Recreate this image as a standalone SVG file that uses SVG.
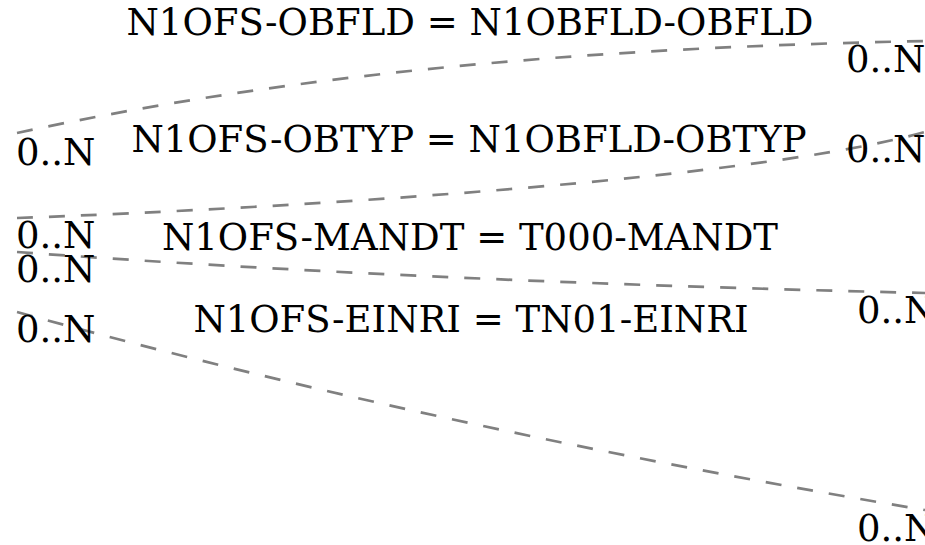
<svg xmlns="http://www.w3.org/2000/svg" width="925" height="545" viewBox="0 0 925 545">
<style>
.edge{fill:none;stroke:#808080;stroke-width:2.7;stroke-dasharray:16,16}
.lbl{font-family:"DejaVu Serif",serif;font-size:37px;fill:#000}
.mid{text-anchor:middle}
</style>
<rect width="925" height="545" fill="#fff"/>
<g id="connectors">
<path class="edge" d="M17,133 C317,68 625,47 925,41"/>
<path class="edge" d="M17,218 C317,207 760,178 925,132"/>
<path class="edge" d="M17,252 C317,274 625,286 925,293"/>
<path class="edge" d="M17,312 C317,395 625,460 925,510"/>
</g>
<g id="edge-labels">
<text class="lbl mid" x="470" y="35">N1OFS-OBFLD = N1OBFLD-OBFLD</text>
<text class="lbl mid" x="469" y="152">N1OFS-OBTYP = N1OBFLD-OBTYP</text>
<text class="lbl mid" x="470" y="250">N1OFS-MANDT = T000-MANDT</text>
<text class="lbl mid" x="471" y="332">N1OFS-EINRI = TN01-EINRI</text>
</g>
<g id="cardinalities">
<text class="lbl" x="16" y="165">0..N</text>
<text class="lbl" x="16" y="248">0..N</text>
<text class="lbl" x="16" y="282">0..N</text>
<text class="lbl" x="16" y="342">0..N</text>
<text class="lbl" x="846" y="72">0..N</text>
<text class="lbl" x="846" y="162">0..N</text>
<text class="lbl" x="857" y="323">0..N</text>
<text class="lbl" x="857" y="541">0..N</text>
</g>
</svg>
